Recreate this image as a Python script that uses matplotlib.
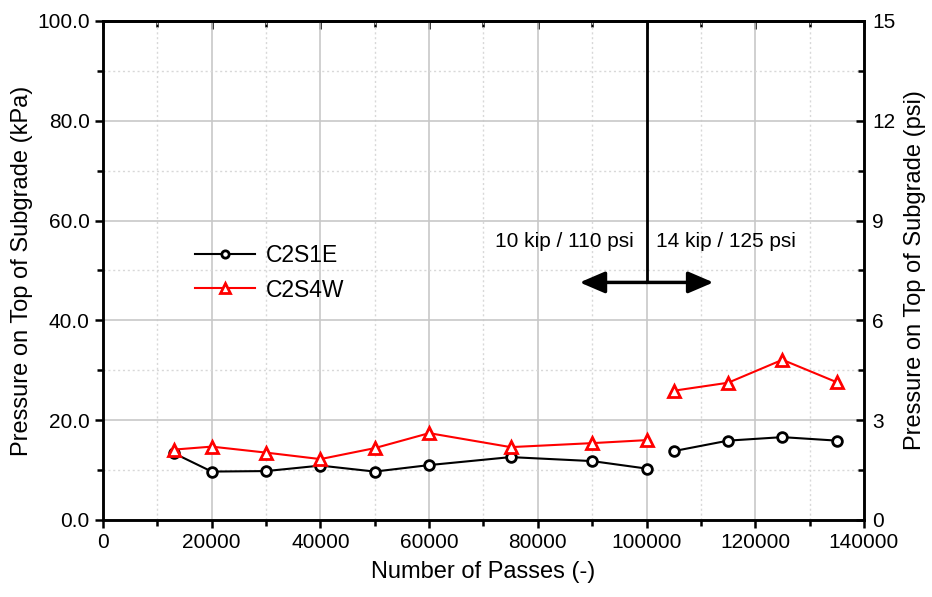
import matplotlib
matplotlib.use("Agg")
import matplotlib.pyplot as plt
from matplotlib.ticker import MultipleLocator, FormatStrFormatter

plt.rcParams['font.family'] = ['Liberation Sans', 'DejaVu Sans']

# passes and subgrade pressure (kPa)
passes_a = [13000, 20000, 30000, 40000, 50000, 60000, 75000, 90000, 100000]
passes_b = [105000, 115000, 125000, 135000]

c2s1e_a = [13.4, 9.7, 9.8, 10.9, 9.7, 11.0, 12.6, 11.8, 10.3]
c2s1e_b = [13.8, 15.9, 16.6, 15.9]

c2s4w_a = [14.1, 14.7, 13.5, 12.2, 14.4, 17.4, 14.6, 15.4, 16.0]
c2s4w_b = [25.9, 27.5, 32.1, 27.6]

change_at = 100000
arrow_span = (87700, 112300)
arrow_level = 47.6

fig = plt.figure(figsize=(9.32, 5.97), dpi=100)
ax = fig.add_axes([0.1105, 0.129, 0.8165, 0.836])

ax.plot(passes_a, c2s1e_a, color='black', marker='o', ms=7, mfc='white',
        mec='black', mew=2, lw=1.5, label='C2S1E', zorder=4)
ax.plot(passes_b, c2s1e_b, color='black', marker='o', ms=7, mfc='white',
        mec='black', mew=2, lw=1.5, zorder=4)
ax.plot(passes_a, c2s4w_a, color='red', marker='^', ms=9, mfc='white',
        mec='red', mew=2, lw=1.5, label='C2S4W', zorder=4)
ax.plot(passes_b, c2s4w_b, color='red', marker='^', ms=9, mfc='white',
        mec='red', mew=2, lw=1.5, zorder=4)

# load change marker
ax.plot([change_at, change_at], [100, arrow_level], color='black', lw=2, zorder=5)
for end in arrow_span:
    ax.annotate('', xy=(end, arrow_level), xytext=(change_at, arrow_level),
                arrowprops=dict(arrowstyle='-|>,head_length=0.7,head_width=0.3',
                                color='black', lw=2.5, mutation_scale=22,
                                shrinkA=0, shrinkB=0), zorder=5)
ax.text(change_at - 2300, 55.7, '10 kip / 110 psi', ha='right', va='center', fontsize=15)
ax.text(change_at + 1800, 55.7, '14 kip / 125 psi', ha='left', va='center', fontsize=15)

ax.set_xlim(0, 140000)
ax.set_ylim(0, 100)
ax.xaxis.set_major_locator(MultipleLocator(20000))
ax.xaxis.set_minor_locator(MultipleLocator(10000))
ax.yaxis.set_major_locator(MultipleLocator(20))
ax.yaxis.set_minor_locator(MultipleLocator(10))
ax.yaxis.set_major_formatter(FormatStrFormatter('%.1f'))

ax.grid(which='major', color='#c8c8c8', lw=1.2, ls='-')
ax.grid(which='minor', color='#d8d8d8', lw=1.0, ls=(0, (1.5, 2)))
ax.set_axisbelow(True)

for s in ax.spines.values():
    s.set_linewidth(1.8)

ax.tick_params(axis='both', which='major', labelsize=15, width=1.8, length=6,
               direction='out')
ax.tick_params(axis='both', which='minor', width=1.8, length=4, direction='out')
ax.tick_params(axis='x', which='both', top=False, direction='out')

ax.set_xlabel('Number of Passes (-)', fontsize=17, labelpad=6)
ax.set_ylabel('Pressure on Top of Subgrade (kPa)', fontsize=17, labelpad=3)

# top ticks point inward while bottom ones point outward
sec = ax.secondary_xaxis('top')
sec.set_xticks(range(0, 140001, 20000))
sec.xaxis.set_minor_locator(MultipleLocator(10000))
sec.tick_params(which='major', direction='in', length=6, width=1.8, labeltop=False)
sec.tick_params(which='minor', direction='in', length=4, width=1.8)
sec.spines['top'].set_linewidth(1.8)

ax2 = ax.twinx()
ax2.set_ylim(0, 15)
ax2.yaxis.set_major_locator(MultipleLocator(3))
ax2.yaxis.set_minor_locator(MultipleLocator(1.5))
ax2.tick_params(which='major', direction='in', length=6, width=1.8, labelsize=15, pad=6)
ax2.tick_params(which='minor', direction='in', length=4, width=1.8)
ax2.set_ylabel('Pressure on Top of Subgrade (psi)', fontsize=17, labelpad=6)
for s in ax2.spines.values():
    s.set_linewidth(1.8)

leg = ax.legend(loc='upper left', bbox_to_anchor=(0.1, 0.585), frameon=False,
                fontsize=16.5, handlelength=2.6, markerscale=0.75,
                labelspacing=0.5, borderpad=0.2, handletextpad=0.5)

fig.savefig('out.png', dpi=100)
